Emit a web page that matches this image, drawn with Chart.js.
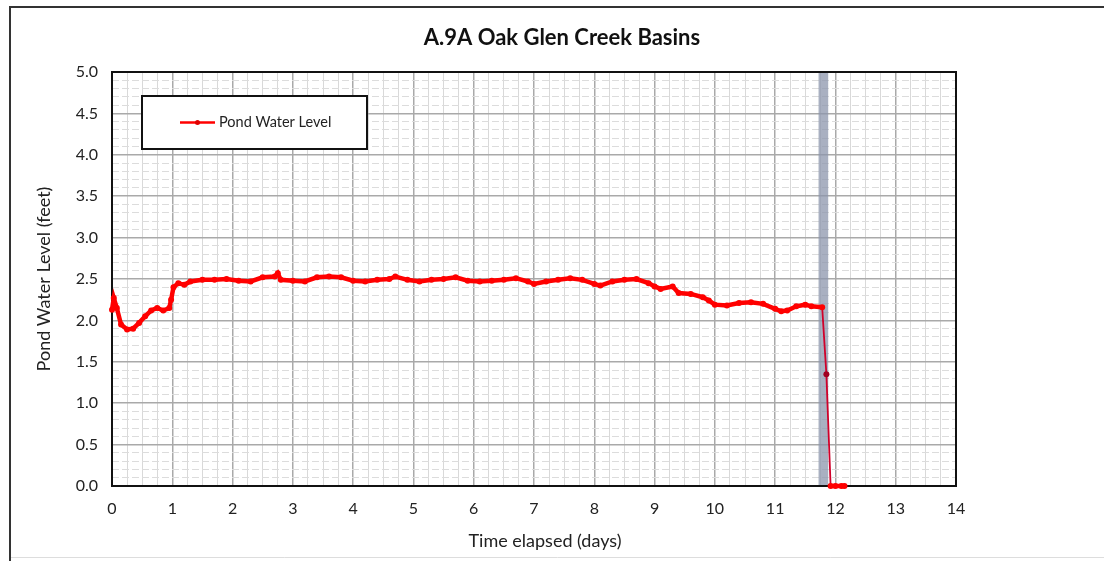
<!DOCTYPE html>
<html>
<head>
<meta charset="utf-8">
<script src="https://cdn.jsdelivr.net/npm/chart.js@4.4.1/dist/chart.umd.min.js"></script>
<style>
html,body{margin:0;padding:0;background:#fff;}
#wrap{width:1104px;height:561px;position:relative;}
</style>
</head>
<body>
<div id="wrap"><canvas id="c" width="1104" height="561"></canvas></div>
<script>
const chartTitle = "A.9A Oak Glen Creek Basins";
const seriesLabel = "Pond Water Level";
const xTitle = "Time elapsed (days)";
const yTitle = "Pond Water Level (feet)";
const days = [0.00,0.03,0.08,0.15,0.25,0.35,0.45,0.55,0.65,0.75,0.85,0.95,0.98,1.02,1.10,1.20,1.30,1.50,1.70,1.90,2.10,2.30,2.50,2.70,2.75,2.80,3.00,3.20,3.40,3.60,3.80,4.00,4.20,4.40,4.60,4.70,4.90,5.10,5.30,5.50,5.70,5.90,6.10,6.30,6.50,6.70,6.90,7.00,7.20,7.40,7.60,7.80,8.00,8.10,8.30,8.50,8.70,8.90,9.00,9.10,9.30,9.40,9.60,9.80,9.90,10.00,10.20,10.40,10.60,10.80,11.00,11.10,11.20,11.35,11.50,11.60,11.78,11.85,11.92,12.00,12.10,12.15];
const level = [2.13,2.27,2.15,1.95,1.89,1.90,1.97,2.05,2.12,2.15,2.12,2.15,2.25,2.40,2.45,2.43,2.47,2.49,2.49,2.50,2.48,2.47,2.52,2.53,2.57,2.49,2.48,2.47,2.52,2.53,2.52,2.48,2.47,2.49,2.50,2.53,2.49,2.47,2.49,2.50,2.52,2.48,2.47,2.48,2.49,2.51,2.47,2.44,2.47,2.49,2.51,2.49,2.44,2.42,2.47,2.49,2.50,2.45,2.41,2.38,2.41,2.33,2.32,2.28,2.24,2.19,2.18,2.21,2.22,2.20,2.14,2.11,2.12,2.17,2.19,2.17,2.16,1.35,0.00,0.00,0.00,0.00];
const bandRange = [11.72, 11.88];
const xTickLabels = ["0","1","2","3","4","5","6","7","8","9","10","11","12","13","14"];
const yTickLabels = ["0.0","0.5","1.0","1.5","2.0","2.5","3.0","3.5","4.0","4.5","5.0"];

const FONT = "Lato, 'Open Sans', sans-serif";

const pts = days.map((d,i)=>({x:d,y:level[i]}));

const framePlugin = {
  id:'frame',
  beforeDraw(chart){
    const c = chart.ctx;
    c.save();
    c.fillStyle='#fff';
    c.fillRect(0,0,chart.width,chart.height);
    c.strokeStyle='#333';
    c.lineWidth=2;
    c.beginPath();
    c.moveTo(10,561); c.lineTo(10,7); c.lineTo(1104,7);
    c.stroke();
    c.strokeStyle='#ddd';
    c.lineWidth=1;
    c.beginPath();
    c.moveTo(11,557.5); c.lineTo(1104,557.5);
    c.stroke();
    c.restore();
  },
  beforeDatasetsDraw(chart){
    const c = chart.ctx, xs = chart.scales.x, a = chart.chartArea;
    const x0 = xs.getPixelForValue(bandRange[0]), x1 = xs.getPixelForValue(bandRange[1]);
    c.save();
    c.fillStyle='rgba(140,150,172,0.75)';
    c.fillRect(x0,a.top,x1-x0,a.bottom-a.top);
    c.strokeStyle='#111';
    c.lineWidth=2;
    c.strokeRect(a.left,a.top,a.right-a.left,a.bottom-a.top);
    c.restore();
  },
  afterDraw(chart){
    const c = chart.ctx;
    c.save();
    // chart title
    c.fillStyle='#111';
    c.font="bold 22px "+FONT;
    c.textAlign='center';
    c.textBaseline='middle';
    c.fillText(chartTitle,562,38);
    // x title
    c.fillStyle='#222';
    c.font="18px "+FONT;
    c.fillText(xTitle,545,541);
    // legend box
    const lx=142, ly=96, lw=225, lh=53;
    c.fillStyle='#fff';
    c.fillRect(lx,ly,lw,lh);
    c.strokeStyle='#111';
    c.lineWidth=2;
    c.strokeRect(lx,ly,lw,lh);
    const cy = ly+lh/2;
    c.strokeStyle='#ff0000';
    c.lineWidth=2.5;
    c.beginPath(); c.moveTo(180,cy); c.lineTo(215,cy); c.stroke();
    c.fillStyle='#e00000';
    c.beginPath(); c.arc(197.5,cy,2.5,0,Math.PI*2); c.fill();
    c.fillStyle='#222';
    c.font="14.5px "+FONT;
    c.textAlign='left';
    c.fillText(chart.data.datasets[0].label,219,cy);
    c.restore();
  }
};

const isInt = v => Math.abs(v-Math.round(v))<1e-6;
const isHalf = v => Math.abs(v*2-Math.round(v*2))<1e-6;
const dropStart = days.length-6, dropEnd = days.length-5;

new Chart(document.getElementById('c'),{
  type:'line',
  data:{datasets:[{
    label:seriesLabel,
    data:pts,
    clip:6,
    borderColor:'#ff0000',
    backgroundColor:'#ff0000',
    borderWidth:4.5,
    pointRadius:3,
    pointBorderWidth:0,
    pointBackgroundColor:ctx=>(ctx.dataIndex===dropEnd)?'#a00020':'#ff0000',
    tension:0,
    segment:{
      borderWidth:ctx=>(ctx.p0DataIndex>=dropStart && ctx.p0DataIndex<=dropEnd)?1.8:4.5,
      borderColor:ctx=>(ctx.p0DataIndex>=dropStart && ctx.p0DataIndex<=dropEnd)?'#d0002a':'#ff0000'
    }
  }]},
  options:{
    responsive:false,
    animation:false,
    layout:{padding:{left:0,right:148,top:72,bottom:0}},
    plugins:{
      legend:{display:false},
      tooltip:{enabled:false},
      title:{display:false}
    },
    scales:{
      x:{
        type:'linear',min:0,max:14,
        afterFit(s){s.height=75;},
        ticks:{stepSize:0.25,autoSkip:false,maxRotation:0,padding:13,color:'#222',font:{family:FONT,size:16},
          callback:(v)=>isInt(v)?xTickLabels[Math.round(v)]:''},
        grid:{drawTicks:false,
          color:ctx=>isInt(ctx.tick.value)?'#a9a9a9':'#d9d9d9',
          lineWidth:ctx=>isInt(ctx.tick.value)?1.5:1},
        border:{display:false},
        title:{display:false}
      },
      y:{
        type:'linear',min:0,max:5,
        afterFit(s){s.width=112;},
        ticks:{stepSize:0.1,autoSkip:false,padding:14,color:'#222',font:{family:FONT,size:16},
          callback:(v)=>isHalf(v)?yTickLabels[Math.round(v*2)]:''},
        grid:{drawTicks:false,
          color:ctx=>isHalf(ctx.tick.value)?'#a9a9a9':'#dcdcdc',
          lineWidth:ctx=>isHalf(ctx.tick.value)?1.5:1},
        border:{display:false,dash:ctx=>(ctx.tick && !isHalf(ctx.tick.value))?[7,3]:[]},
        title:{display:true,text:yTitle,color:'#222',font:{family:FONT,size:18},padding:{top:33,bottom:0}}
      }
    }
  },
  plugins:[framePlugin]
});
</script>
</body>
</html>
